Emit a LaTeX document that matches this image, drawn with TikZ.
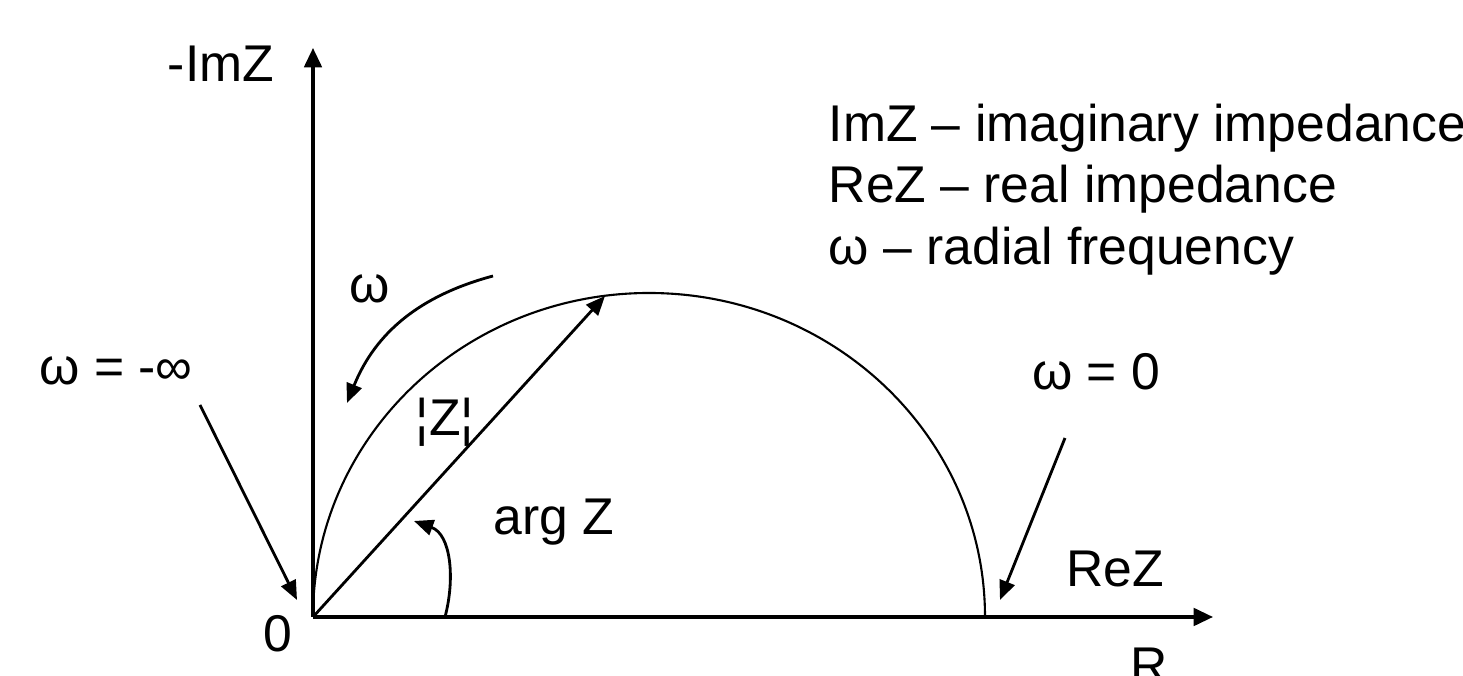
\documentclass[tikz,border=0pt]{standalone}
\usepackage{fontspec}
\setmainfont{Liberation Sans}
\usetikzlibrary{arrows.meta, positioning}

\begin{document}
\begin{tikzpicture}[
    every node/.style={font=\fontsize{14.7}{17}\selectfont, inner sep=0pt},
    axis/.style={line width=0.9pt, -{Triangle[length=5.5pt, width=5pt]}},
    curve/.style={line width=0.6pt},
    pointer/.style={line width=0.8pt, -{Triangle[length=5.5pt, width=4.5pt]}},
]
\useasboundingbox (0,0) rectangle (14.63,6.76);

% axes
\coordinate (O) at (3.13, 0.59);
\coordinate (ytip) at (3.13, 6.28);
\coordinate (xtip) at (12.13, 0.59);
\draw[axis] (O) -- (ytip);
\draw[axis] (O) -- (xtip);

\node[anchor=base] (imlab) at (2.21, 5.94) {-ImZ};
\node[anchor=base] (relab) at (11.15, 0.89) {ReZ};
\node[anchor=base] (rlab) at (11.49, -0.08) {R};
\node[anchor=base] (zero) at (2.78, 0.24) {0};

% the semicircle
\draw[curve] (O) arc[start angle=180, end angle=0, x radius=3.36, y radius=3.24];

% |Z| and arg Z
\coordinate (ztip) at (6.05, 3.80);
\draw[pointer] (O) -- (ztip);
\node (modz) at (4.45, 2.54) {¦Z¦};
\coordinate (argstart) at (4.45, 0.59);
\coordinate (argtip) at (4.14, 1.55);
\draw[pointer] (argstart) to[out=75, in=-20] (argtip);
\node[anchor=base] (argz) at (5.54, 1.41) {arg Z};

% direction of omega along the curve
\coordinate (wfrom) at (4.93, 4.00);
\coordinate (wto) at (3.47, 2.73);
\draw[pointer] (wfrom) to[out=195, in=68] (wto);
\node[anchor=base] (wlab) at (3.70, 3.73) {ω};

% the two limits
\node[anchor=base] (winf) at (1.16, 2.91) {ω = -∞};
\coordinate (winfstart) at (2.00, 2.71);
\coordinate (winftip) at (2.97, 0.76);
\draw[pointer] (winfstart) -- (winftip);

\node[anchor=base] (wnull) at (10.96, 2.86) {ω = 0};
\coordinate (wnullstart) at (10.65, 2.38);
\coordinate (wnulltip) at (10.00, 0.76);
\draw[pointer] (wnullstart) -- (wnulltip);

% legend
\foreach \i/\y/\txt in {1/5.34/{ImZ – imaginary impedance},
                        2/4.73/{ReZ – real impedance},
                        3/4.11/{ω – radial frequency}}{
    \node[anchor=base west] (leg\i) at (8.28, \y) {\txt};
}
\end{tikzpicture}
\end{document}
